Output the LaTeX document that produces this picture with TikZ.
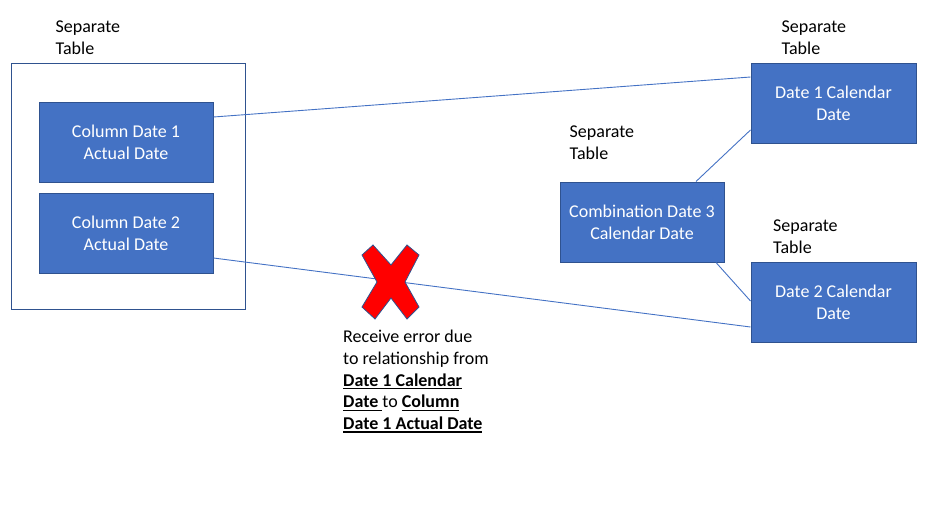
\documentclass[tikz,border=0pt]{standalone}
\usepackage{fontspec}
\setmainfont{Carlito}
\definecolor{boxblue}{HTML}{4472C4}
\definecolor{edgeblue}{HTML}{2F528F}
\newsavebox{\ulbox}
\newcommand{\ulb}[1]{\sbox{\ulbox}{#1}\rlap{\rule[-3pt]{\wd\ulbox}{1.2pt}}\usebox{\ulbox}}
\tikzset{
  tablebox/.style={draw=edgeblue, line width=1pt, fill=boxblue, text=white,
    align=center, font=\fontsize{18}{22}\selectfont, inner sep=0pt},
  plainlabel/.style={align=left, anchor=north west, inner sep=0pt,
    font=\fontsize{18}{22}\selectfont},
  link/.style={draw=boxblue, line width=0.9pt}
}
\begin{document}
\begin{tikzpicture}[x=1pt,y=-1pt]
\useasboundingbox (0,0) rectangle (945,506);
% outer table
\node[draw=edgeblue, line width=1pt, minimum width=234pt, minimum height=246pt, inner sep=0pt] (outer) at (128,186) {};
\node[plainlabel] (lblA) at (55.5,21) {Separate\\Table};
\node[tablebox, minimum width=174pt, minimum height=80pt] (c1) at (126,142) {Column Date 1\\Actual Date};
\node[tablebox, minimum width=174pt, minimum height=80pt] (c2) at (126,233) {Column Date 2\\Actual Date};
% right side
\node[plainlabel] (lblB) at (781.5,21) {Separate\\Table};
\node[tablebox, minimum width=165pt, minimum height=80pt] (d1) at (833.5,103) {Date 1 Calendar\\Date};
\node[plainlabel] (lblC) at (773,220) {Separate\\Table};
\node[tablebox, minimum width=165pt, minimum height=80pt] (d2) at (833.5,302) {Date 2 Calendar\\Date};
\node[plainlabel] (lblD) at (569.5,126) {Separate\\Table};
\node[tablebox, minimum width=164pt, minimum height=80pt] (cb) at (642,222) {Combination Date 3\\Calendar Date};
% connectors
\draw[link] ([yshift=25pt]c1.east) -- ([yshift=26pt]d1.west);
\draw[link] ([yshift=-25pt]c2.east) -- ([yshift=-25pt]d2.west);
\draw[link] ([xshift=54pt]cb.north) -- ([yshift=-27pt]d1.west);
\draw[link] ([xshift=74pt]cb.south) -- ([yshift=1pt]d2.west);
% red X
\fill[red, draw=edgeblue, line width=0.8pt]
  (362,255) -- (373,245) -- (391,265) -- (407,245) -- (419,255) -- (405,282)
  -- (419,307) -- (407,319) -- (391,298) -- (375,319) -- (362,307) -- (377,282) -- cycle;
\node[plainlabel, font=\fontsize{18}{21.7}\selectfont] (err) at (343,330) {Receive error due\\to relationship from\\\textbf{\ulb{Date 1 Calendar}}\\\textbf{\ulb{Date }}to \textbf{\ulb{Column}}\\\textbf{\ulb{Date 1 Actual Date}}};
\end{tikzpicture}
\end{document}
